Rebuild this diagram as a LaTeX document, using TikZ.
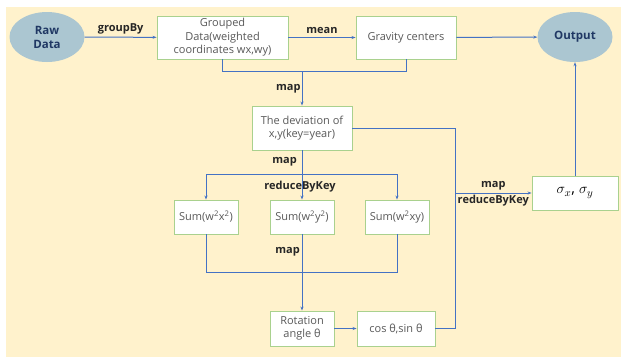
\documentclass[tikz,border=0pt]{standalone}
\usepackage{fontspec}
\setmainfont{Open Sans}
\usetikzlibrary{arrows.meta,shapes.geometric}

\definecolor{bgyellow}{HTML}{FFF2CC}
\definecolor{boxgreen}{HTML}{A9D18E}
\definecolor{linkblue}{HTML}{4472C4}
\definecolor{ovalblue}{HTML}{ABC6D1}
\definecolor{ovaltext}{HTML}{203864}
\definecolor{boxtext}{HTML}{595959}
\definecolor{labeltext}{HTML}{262626}

\tikzset{
  box/.style={draw=boxgreen, line width=0.9pt, fill=white, align=center,
    text=boxtext, inner sep=0pt, font=\fontsize{11}{13.5}\selectfont},
  oval/.style={ellipse, fill=ovalblue, align=center, text=ovaltext,
    minimum width=75, minimum height=50, inner sep=0pt,
    font=\fontsize{11.5}{14}\selectfont\bfseries},
  wire/.style={draw=linkblue, line width=1pt},
  link/.style={wire, -{Stealth[length=4pt,width=3pt]}},
  tag/.style={text=labeltext, inner sep=1pt, font=\fontsize{11}{13}\selectfont\bfseries}
}

\begin{document}
\begin{tikzpicture}[x=1pt,y=-1pt]

\def\width{621}
\def\height{357}

\path [use as bounding box] (0,0) rectangle (\width,\height);
\fill [bgyellow] (6,7) rectangle (\width,\height);

% TOP ROW
\node [oval] (raw) at (47,37) {Raw\\Data};
\node [box, minimum width=131, minimum height=43] (grouped) at (222.5,37.5)
  {Grouped\\Data(weighted\\coordinates wx,wy)};
\node [box, minimum width=100, minimum height=43] (gravity) at (406,37.5) {Gravity centers};
\node [oval] (output) at (575,37) {Output};

% MIDDLE
\node [box, minimum width=100, minimum height=44] (deviation) at (302,128)
  {The deviation of\\x,y(key=year)};
\node [box, minimum width=64, minimum height=34] (sumxx) at (206,217) {Sum(w\textsuperscript{2}x\textsuperscript{2})};
\node [box, minimum width=64, minimum height=34] (sumyy) at (302,217) {Sum(w\textsuperscript{2}y\textsuperscript{2})};
\node [box, minimum width=64, minimum height=34] (sumxy) at (397,217) {Sum(w\textsuperscript{2}xy)};
\node [box, minimum width=86, minimum height=34, text=black] (sigma) at (575,193)
  {\fontsize{15}{17}\selectfont$\sigma_x$, $\sigma_y$};

% BOTTOM
\node [box, minimum width=64, minimum height=35] (rotation) at (302,328.5) {Rotation\\angle θ};
\node [box, minimum width=78, minimum height=35] (cossin) at (396,328.5) {cos θ,sin θ};

% JOINTS
\coordinate (centers) at (302,71);
\coordinate (split) at (302,174);
\coordinate (merge) at (302,272);
\coordinate (bus) at (455,193);

% LINKS
\draw [link] (raw) -- (grouped) node [tag, midway, above=2pt] {groupBy};
\draw [link] (grouped) -- (gravity) node [tag, midway, above=2pt] {mean};
\draw [link] (gravity) -- (output);

\draw [wire] (grouped.south) |- (centers);
\draw [wire] (gravity.south) |- (centers);
\draw [link] (centers) -- (deviation) node [tag, midway, left] {map};

\draw [link] (deviation) -- (sumyy);
\draw [link] (split) -| (sumxx);
\draw [link] (split) -| (sumxy);
\node [tag, anchor=east] (mapone) at (298,162) {map};
\node [tag] (reduceone) at (300,187) {reduceByKey};

\draw [wire] (sumxx) |- (merge);
\draw [wire] (sumxy) |- (merge);
\draw [link] (sumyy) -- (rotation);
\node [tag, anchor=east] (maptwo) at (301,252) {map};

\draw [link] (rotation) -- (cossin);
\draw [wire] (deviation.east) -| (bus);
\draw [wire] (cossin.east) -| (bus);
\draw [link] (bus) -- (sigma)
  node [tag, midway, above=1pt] {map}
  node [tag, midway, below=1pt] {reduceByKey};
\draw [link] (sigma) -- (output);

\end{tikzpicture}
\end{document}
